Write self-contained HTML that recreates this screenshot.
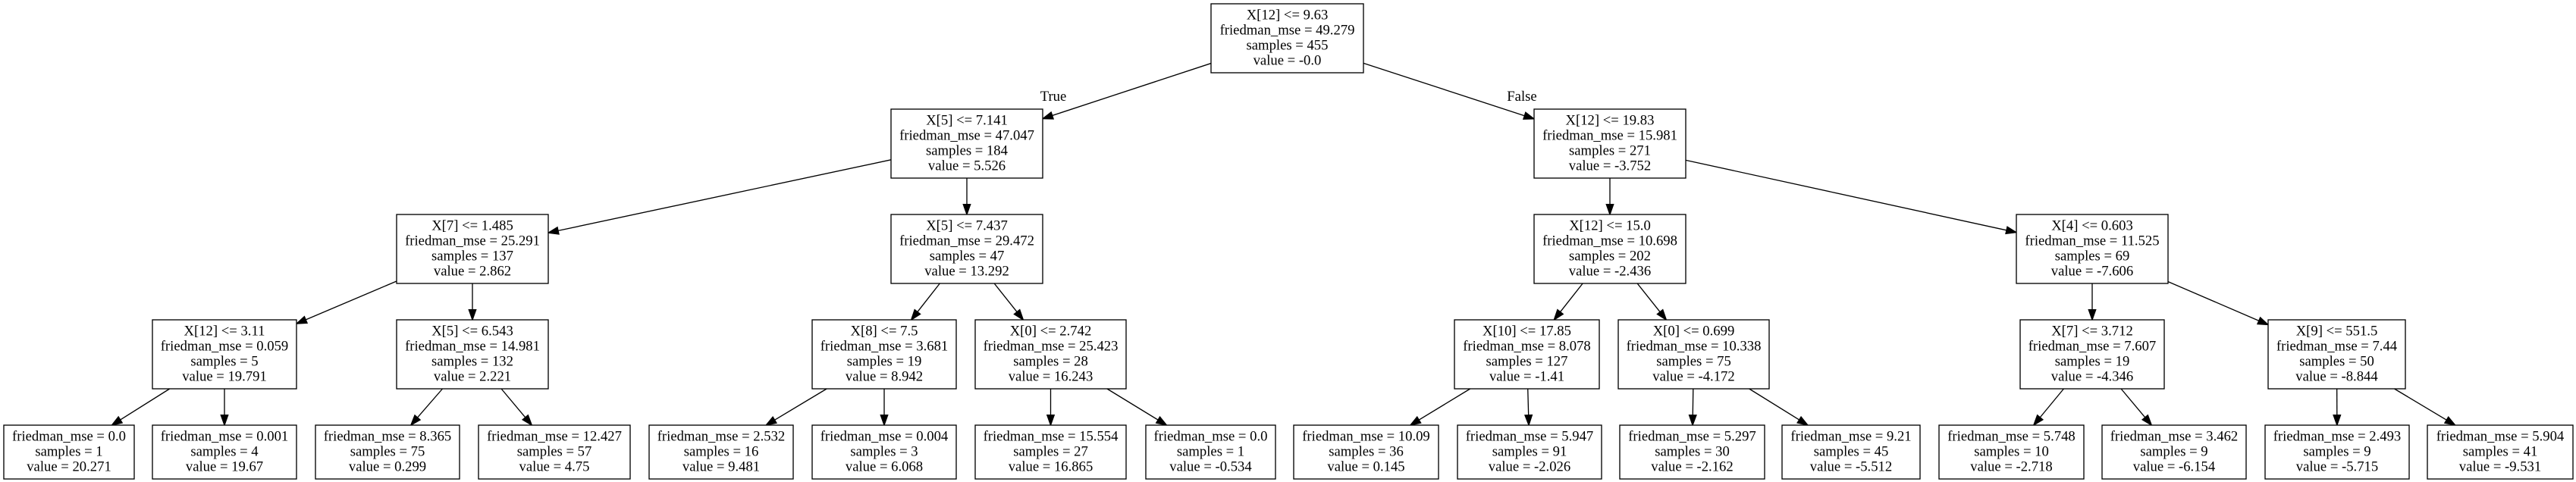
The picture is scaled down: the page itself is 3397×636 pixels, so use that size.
<!DOCTYPE html>
<html><head><meta charset="utf-8"><style>
html,body{margin:0;padding:0;background:#fff;}
svg{display:block;}
text{font-family:"Liberation Serif",serif;font-size:18.67px;fill:#000;text-anchor:middle;}
rect{fill:#fff;stroke:#000;stroke-width:1.33;}
</style></head><body>
<svg id="s" width="3397" height="636" viewBox="0 0 3397 636" xmlns="http://www.w3.org/2000/svg">
<g id="edges"></g>
<!-- L0 -->
<rect x="1597" y="5" width="201" height="91"/>
<text y="25.5"><tspan x="1697.5">X[12] &lt;= 9.63</tspan><tspan x="1697.5" dy="20">friedman_mse = 49.279</tspan><tspan x="1697.5" dy="20">samples = 455</tspan><tspan x="1697.5" dy="20">value = -0.0</tspan></text>
<text x="1389" y="133">True</text>
<text x="2007" y="133">False</text>
<!-- L1 -->
<rect x="1175" y="144" width="200" height="91"/>
<text y="164.5"><tspan x="1275">X[5] &lt;= 7.141</tspan><tspan x="1275" dy="20">friedman_mse = 47.047</tspan><tspan x="1275" dy="20">samples = 184</tspan><tspan x="1275" dy="20">value = 5.526</tspan></text>
<rect x="2023" y="144" width="200" height="91"/>
<text y="164.5"><tspan x="2123">X[12] &lt;= 19.83</tspan><tspan x="2123" dy="20">friedman_mse = 15.981</tspan><tspan x="2123" dy="20">samples = 271</tspan><tspan x="2123" dy="20">value = -3.752</tspan></text>
<!-- L2 -->
<rect x="523" y="283" width="200" height="91"/>
<text y="303.5"><tspan x="623">X[7] &lt;= 1.485</tspan><tspan x="623" dy="20">friedman_mse = 25.291</tspan><tspan x="623" dy="20">samples = 137</tspan><tspan x="623" dy="20">value = 2.862</tspan></text>
<rect x="1175" y="283" width="200" height="91"/>
<text y="303.5"><tspan x="1275">X[5] &lt;= 7.437</tspan><tspan x="1275" dy="20">friedman_mse = 29.472</tspan><tspan x="1275" dy="20">samples = 47</tspan><tspan x="1275" dy="20">value = 13.292</tspan></text>
<rect x="2023" y="283" width="200" height="91"/>
<text y="303.5"><tspan x="2123">X[12] &lt;= 15.0</tspan><tspan x="2123" dy="20">friedman_mse = 10.698</tspan><tspan x="2123" dy="20">samples = 202</tspan><tspan x="2123" dy="20">value = -2.436</tspan></text>
<rect x="2659" y="283" width="200" height="91"/>
<text y="303.5"><tspan x="2759">X[4] &lt;= 0.603</tspan><tspan x="2759" dy="20">friedman_mse = 11.525</tspan><tspan x="2759" dy="20">samples = 69</tspan><tspan x="2759" dy="20">value = -7.606</tspan></text>
<!-- L3 -->
<rect x="201" y="422" width="190" height="91"/>
<text y="442.5"><tspan x="296">X[12] &lt;= 3.11</tspan><tspan x="296" dy="20">friedman_mse = 0.059</tspan><tspan x="296" dy="20">samples = 5</tspan><tspan x="296" dy="20">value = 19.791</tspan></text>
<rect x="523" y="422" width="200" height="91"/>
<text y="442.5"><tspan x="623">X[5] &lt;= 6.543</tspan><tspan x="623" dy="20">friedman_mse = 14.981</tspan><tspan x="623" dy="20">samples = 132</tspan><tspan x="623" dy="20">value = 2.221</tspan></text>
<rect x="1071" y="422" width="190" height="91"/>
<text y="442.5"><tspan x="1166">X[8] &lt;= 7.5</tspan><tspan x="1166" dy="20">friedman_mse = 3.681</tspan><tspan x="1166" dy="20">samples = 19</tspan><tspan x="1166" dy="20">value = 8.942</tspan></text>
<rect x="1286" y="422" width="199" height="91"/>
<text y="442.5"><tspan x="1385.5">X[0] &lt;= 2.742</tspan><tspan x="1385.5" dy="20">friedman_mse = 25.423</tspan><tspan x="1385.5" dy="20">samples = 28</tspan><tspan x="1385.5" dy="20">value = 16.243</tspan></text>
<rect x="1918" y="422" width="191" height="91"/>
<text y="442.5"><tspan x="2013.5">X[10] &lt;= 17.85</tspan><tspan x="2013.5" dy="20">friedman_mse = 8.078</tspan><tspan x="2013.5" dy="20">samples = 127</tspan><tspan x="2013.5" dy="20">value = -1.41</tspan></text>
<rect x="2134" y="422" width="199" height="91"/>
<text y="442.5"><tspan x="2233.5">X[0] &lt;= 0.699</tspan><tspan x="2233.5" dy="20">friedman_mse = 10.338</tspan><tspan x="2233.5" dy="20">samples = 75</tspan><tspan x="2233.5" dy="20">value = -4.172</tspan></text>
<rect x="2664" y="422" width="190" height="91"/>
<text y="442.5"><tspan x="2759">X[7] &lt;= 3.712</tspan><tspan x="2759" dy="20">friedman_mse = 7.607</tspan><tspan x="2759" dy="20">samples = 19</tspan><tspan x="2759" dy="20">value = -4.346</tspan></text>
<rect x="2991" y="422" width="181" height="91"/>
<text y="442.5"><tspan x="3081.5">X[9] &lt;= 551.5</tspan><tspan x="3081.5" dy="20">friedman_mse = 7.44</tspan><tspan x="3081.5" dy="20">samples = 50</tspan><tspan x="3081.5" dy="20">value = -8.844</tspan></text>
<!-- L4 leaves -->
<rect x="5" y="561" width="172" height="71"/>
<text y="581.5"><tspan x="91">friedman_mse = 0.0</tspan><tspan x="91" dy="20">samples = 1</tspan><tspan x="91" dy="20">value = 20.271</tspan></text>
<rect x="201" y="561" width="190" height="71"/>
<text y="581.5"><tspan x="296">friedman_mse = 0.001</tspan><tspan x="296" dy="20">samples = 4</tspan><tspan x="296" dy="20">value = 19.67</tspan></text>
<rect x="416" y="561" width="190" height="71"/>
<text y="581.5"><tspan x="511">friedman_mse = 8.365</tspan><tspan x="511" dy="20">samples = 75</tspan><tspan x="511" dy="20">value = 0.299</tspan></text>
<rect x="631" y="561" width="200" height="71"/>
<text y="581.5"><tspan x="731">friedman_mse = 12.427</tspan><tspan x="731" dy="20">samples = 57</tspan><tspan x="731" dy="20">value = 4.75</tspan></text>
<rect x="856" y="561" width="190" height="71"/>
<text y="581.5"><tspan x="951">friedman_mse = 2.532</tspan><tspan x="951" dy="20">samples = 16</tspan><tspan x="951" dy="20">value = 9.481</tspan></text>
<rect x="1071" y="561" width="190" height="71"/>
<text y="581.5"><tspan x="1166">friedman_mse = 0.004</tspan><tspan x="1166" dy="20">samples = 3</tspan><tspan x="1166" dy="20">value = 6.068</tspan></text>
<rect x="1286" y="561" width="199" height="71"/>
<text y="581.5"><tspan x="1385.5">friedman_mse = 15.554</tspan><tspan x="1385.5" dy="20">samples = 27</tspan><tspan x="1385.5" dy="20">value = 16.865</tspan></text>
<rect x="1511" y="561" width="171" height="71"/>
<text y="581.5"><tspan x="1596.5">friedman_mse = 0.0</tspan><tspan x="1596.5" dy="20">samples = 1</tspan><tspan x="1596.5" dy="20">value = -0.534</tspan></text>
<rect x="1706" y="561" width="191" height="71"/>
<text y="581.5"><tspan x="1801.5">friedman_mse = 10.09</tspan><tspan x="1801.5" dy="20">samples = 36</tspan><tspan x="1801.5" dy="20">value = 0.145</tspan></text>
<rect x="1922" y="561" width="190" height="71"/>
<text y="581.5"><tspan x="2017">friedman_mse = 5.947</tspan><tspan x="2017" dy="20">samples = 91</tspan><tspan x="2017" dy="20">value = -2.026</tspan></text>
<rect x="2136" y="561" width="191" height="71"/>
<text y="581.5"><tspan x="2231.5">friedman_mse = 5.297</tspan><tspan x="2231.5" dy="20">samples = 30</tspan><tspan x="2231.5" dy="20">value = -2.162</tspan></text>
<rect x="2350" y="561" width="182" height="71"/>
<text y="581.5"><tspan x="2441">friedman_mse = 9.21</tspan><tspan x="2441" dy="20">samples = 45</tspan><tspan x="2441" dy="20">value = -5.512</tspan></text>
<rect x="2557" y="561" width="191" height="71"/>
<text y="581.5"><tspan x="2652.5">friedman_mse = 5.748</tspan><tspan x="2652.5" dy="20">samples = 10</tspan><tspan x="2652.5" dy="20">value = -2.718</tspan></text>
<rect x="2772" y="561" width="190" height="71"/>
<text y="581.5"><tspan x="2867">friedman_mse = 3.462</tspan><tspan x="2867" dy="20">samples = 9</tspan><tspan x="2867" dy="20">value = -6.154</tspan></text>
<rect x="2987" y="561" width="190" height="71"/>
<text y="581.5"><tspan x="3082">friedman_mse = 2.493</tspan><tspan x="3082" dy="20">samples = 9</tspan><tspan x="3082" dy="20">value = -5.715</tspan></text>
<rect x="3201" y="561" width="192" height="71"/>
<text y="581.5"><tspan x="3297">friedman_mse = 5.904</tspan><tspan x="3297" dy="20">samples = 41</tspan><tspan x="3297" dy="20">value = -9.531</tspan></text>
</svg>
<script>
(function(){
var L0=[5,96],L1=[144,235],L2=[283,374],L3=[422,513],L4=[561,632];
function R(x1,x2,r){return [x1,r[0],x2,r[1]];}
var N={
R:R(1597,1798,L0),A:R(1175,1375,L1),B:R(2023,2223,L1),
A1:R(523,723,L2),A2:R(1175,1375,L2),B1:R(2023,2223,L2),B2:R(2659,2859,L2),
A1a:R(201,391,L3),A1b:R(523,723,L3),A2a:R(1071,1261,L3),A2b:R(1286,1485,L3),
B1a:R(1918,2109,L3),B1b:R(2134,2333,L3),B2a:R(2664,2854,L3),B2b:R(2991,3172,L3),
l1:R(5,177,L4),l2:R(201,391,L4),l3:R(416,606,L4),l4:R(631,831,L4),
l5:R(856,1046,L4),l6:R(1071,1261,L4),l7:R(1286,1485,L4),l8:R(1511,1682,L4),
l9:R(1706,1897,L4),l10:R(1922,2112,L4),l11:R(2136,2327,L4),l12:R(2350,2532,L4),
l13:R(2557,2748,L4),l14:R(2772,2962,L4),l15:R(2987,3177,L4),l16:R(3201,3393,L4)};
var E=[["R","A"],["R","B"],["A","A1"],["A","A2"],["B","B1"],["B","B2"],
["A1","A1a"],["A1","A1b"],["A2","A2a"],["A2","A2b"],["B1","B1a"],["B1","B1b"],["B2","B2a"],["B2","B2b"],
["A1a","l1"],["A1a","l2"],["A1b","l3"],["A1b","l4"],["A2a","l5"],["A2a","l6"],["A2b","l7"],["A2b","l8"],
["B1a","l9"],["B1a","l10"],["B1b","l11"],["B1b","l12"],["B2a","l13"],["B2a","l14"],["B2b","l15"],["B2b","l16"]];
function c(r){return [(r[0]+r[2])/2,(r[1]+r[3])/2];}
function clip(r,dx,dy){var hw=(r[2]-r[0])/2,hh=(r[3]-r[1])/2;var t=Infinity;
 if(dx!==0)t=Math.min(t,hw/Math.abs(dx));if(dy!==0)t=Math.min(t,hh/Math.abs(dy));return t;}
var g=document.getElementById("edges"),ns="http://www.w3.org/2000/svg",h="";
E.forEach(function(e){var a=N[e[0]],b=N[e[1]],p=c(a),q=c(b);var dx=q[0]-p[0],dy=q[1]-p[1];
 var t1=clip(a,dx,dy),t2=clip(b,-dx,-dy);
 var sx=p[0]+dx*t1,sy=p[1]+dy*t1,ex=q[0]-dx*t2,ey=q[1]-dy*t2;
 var len=Math.hypot(ex-sx,ey-sy),ux=(ex-sx)/len,uy=(ey-sy)/len,AL=13.3,AW=4.7;
 var bx=ex-ux*AL,by=ey-uy*AL;
 h+='<line x1="'+sx+'" y1="'+sy+'" x2="'+bx+'" y2="'+by+'" stroke="#000" stroke-width="1.33"/>';
 h+='<polygon points="'+ex+','+ey+' '+(bx-uy*AW)+','+(by+ux*AW)+' '+(bx+uy*AW)+','+(by-ux*AW)+'" fill="#000" stroke="#000" stroke-width="1.33"/>';
});
g.innerHTML=h;
})();
</script>
</body></html>
